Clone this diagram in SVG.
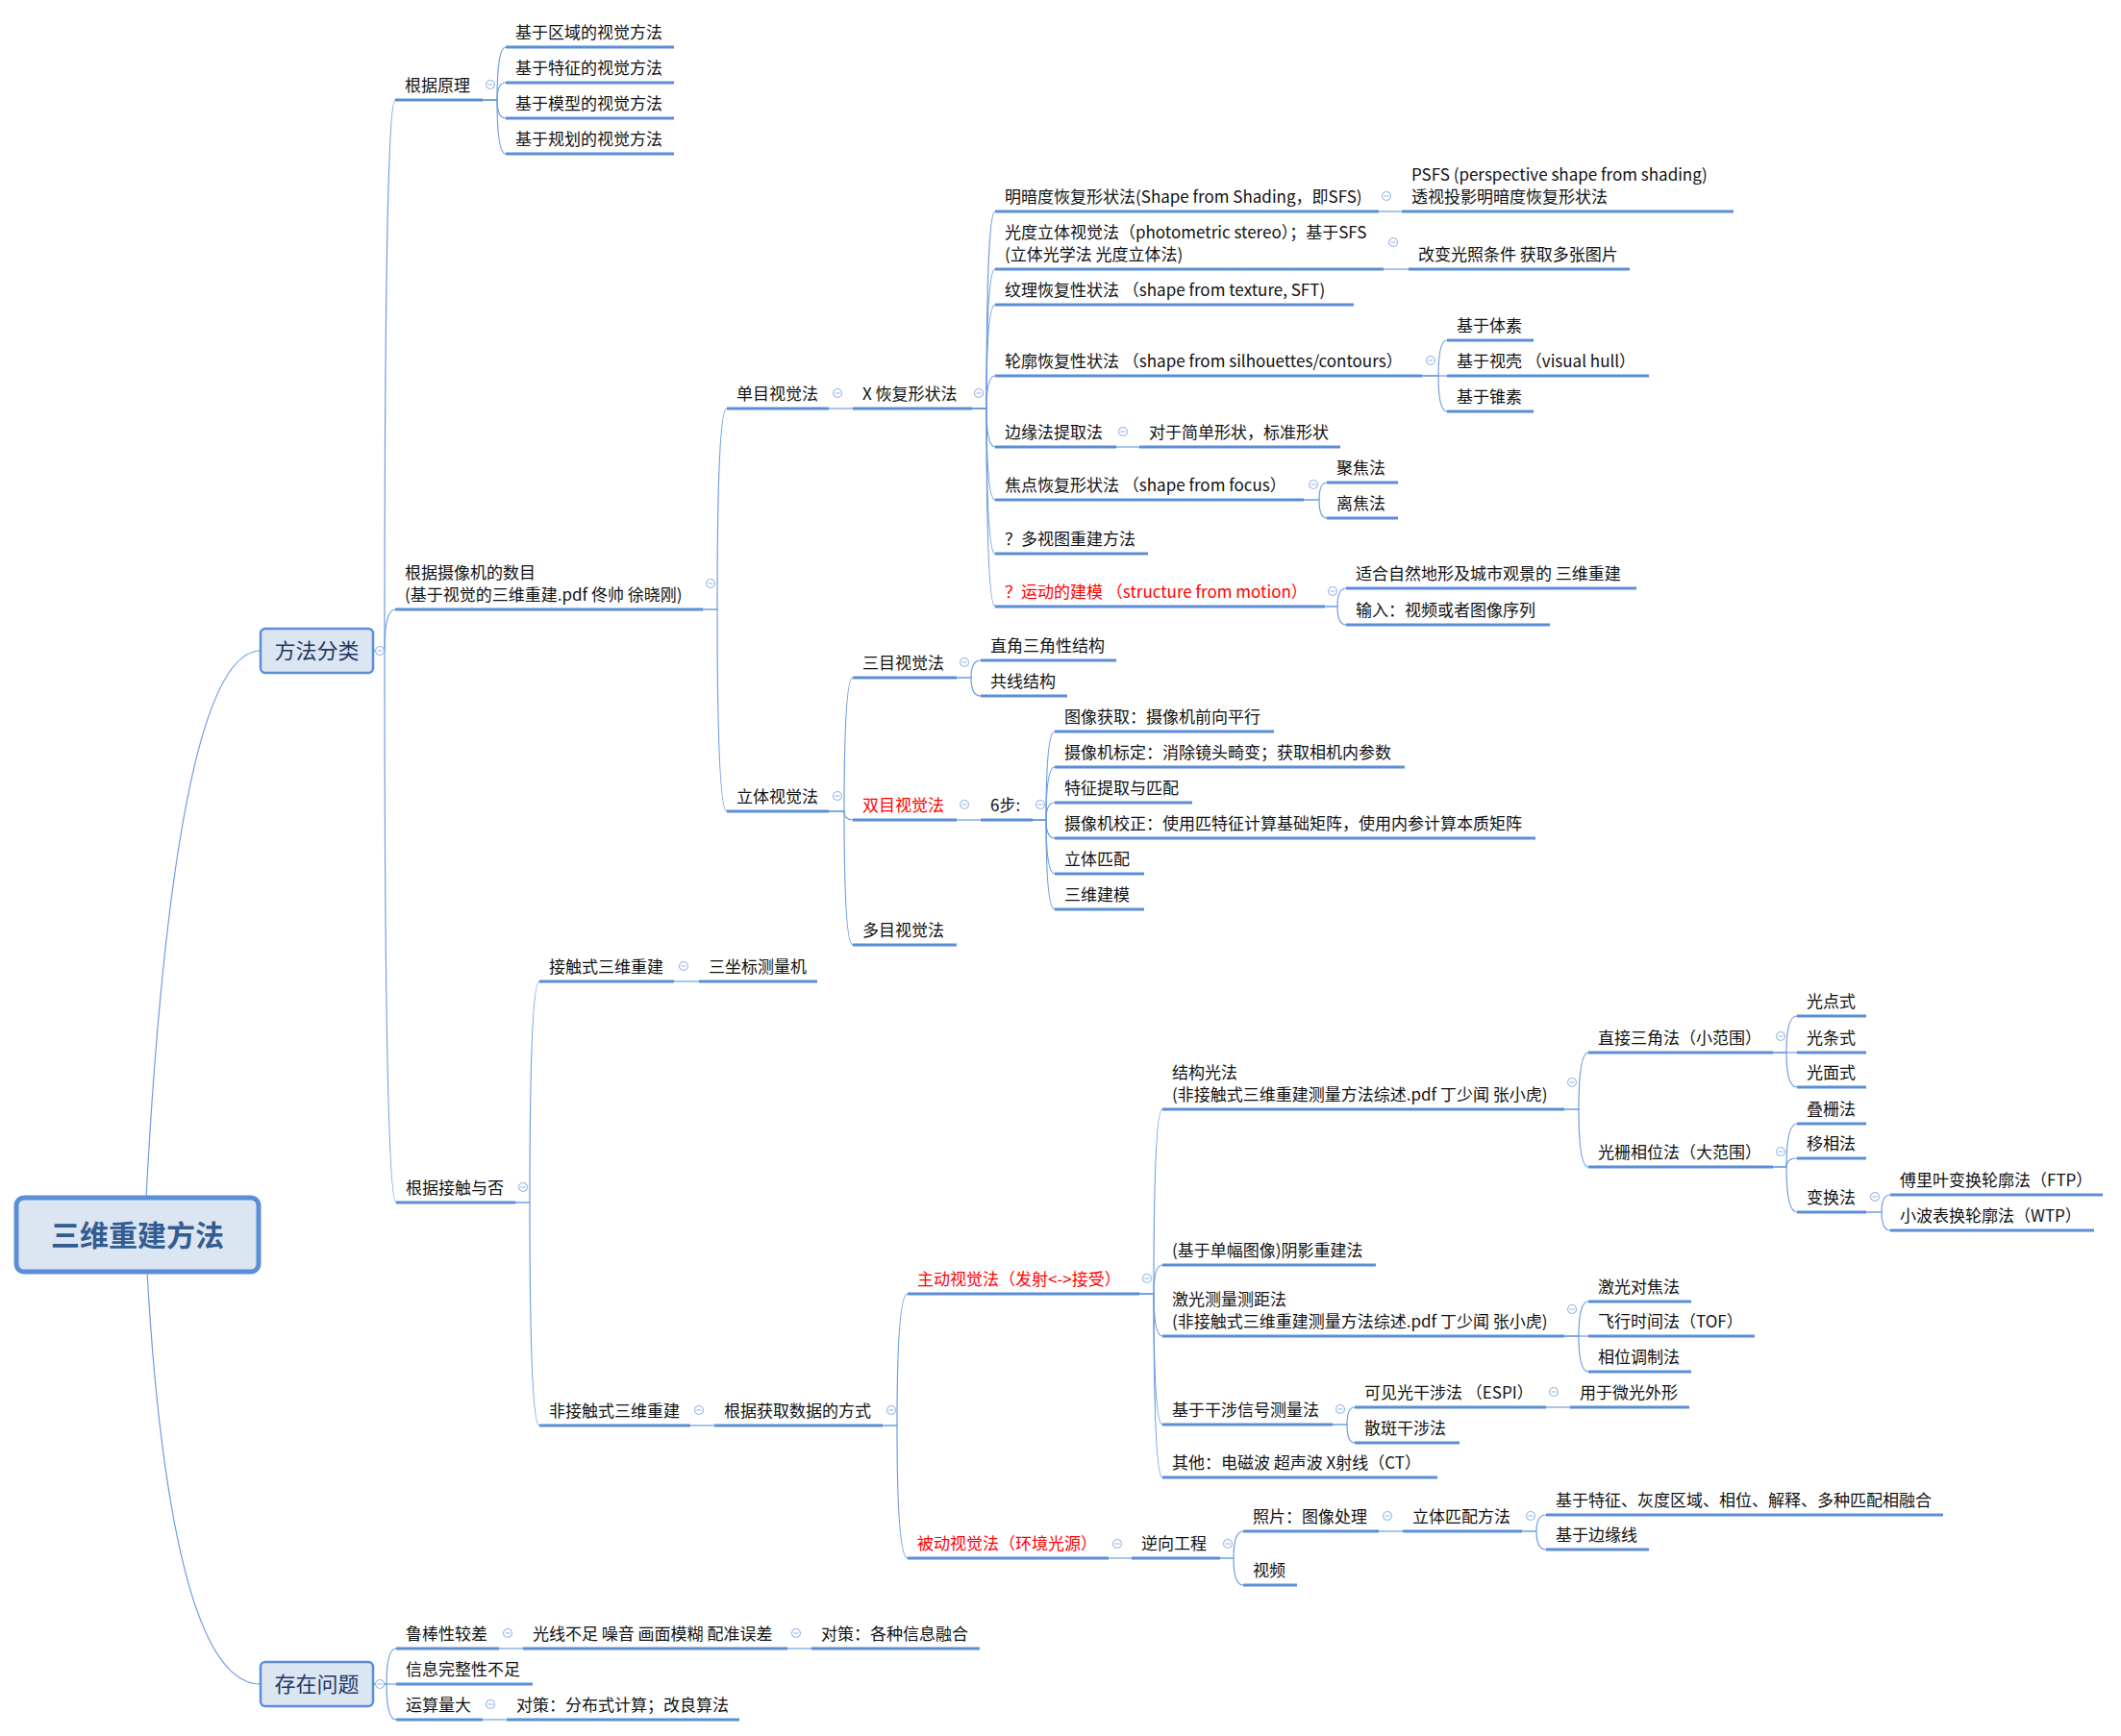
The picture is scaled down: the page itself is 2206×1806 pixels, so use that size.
<svg xmlns="http://www.w3.org/2000/svg" width="2206" height="1806" viewBox="0 0 2206 1806">
<style>
.t{font-family:"Noto Sans CJK SC","Liberation Sans",sans-serif;font-size:17px;fill:#111}
.red{fill:#ff0000}
.u{stroke:#5b8ed7;stroke-width:3.2;fill:none}
.c{stroke:#6d9de0;stroke-width:1.2;fill:none}
.box{fill:#dce6f2;stroke:#5b8ed7;stroke-width:2.5}
.root{fill:#dce6f2;stroke:#5b8ed7;stroke-width:5}
.bt{font-family:"Noto Sans CJK SC","Liberation Sans",sans-serif;font-size:22px;fill:#1f3864;text-anchor:middle}
.rt{font-family:"Noto Sans CJK SC","Liberation Sans",sans-serif;font-size:30px;font-weight:bold;fill:#335d91;text-anchor:middle}
</style>
<defs>
<g id="mk"><circle r="4.5" fill="#fff" stroke="#9ab8e6" stroke-width="1.1"/><line x1="-2.6" y1="0" x2="2.6" y2="0" stroke="#9ab8e6" stroke-width="1.1"/></g>
</defs>
<rect width="2206" height="1806" fill="#fff"/>

<g id="connectors">
<!-- root -->
<path class="c" d="M152,1246 C165,1000 195,677 271,677"/>
<path class="c" d="M153,1323 C163,1500 190,1752 271,1752"/>
<!-- 方法分类 -->
<path class="c" d="M388,677 H400 Q400,104 411,104"/>
<path class="c" d="M388,677 H400 Q400,634 411,634"/>
<path class="c" d="M388,677 H400 Q400,1251 412,1251"/>
<!-- 根据原理 -->
<path class="c" d="M502,104 H517 Q517,49 526,49"/>
<path class="c" d="M502,104 H517 Q517,86 526,86"/>
<path class="c" d="M502,104 H517 Q517,123 526,123"/>
<path class="c" d="M502,104 H517 Q517,160 526,160"/>
<!-- 根据摄像机 -->
<path class="c" d="M731,634 H746 Q746,425 756,425"/>
<path class="c" d="M731,634 H746 Q746,844 756,844"/>
<path class="c" d="M862,425 H887"/>
<!-- X 恢复形状法 -->
<path class="c" d="M1011,425 H1026 Q1026,220 1035,220"/>
<path class="c" d="M1011,425 H1026 Q1026,280 1035,280"/>
<path class="c" d="M1011,425 H1026 Q1026,317 1035,317"/>
<path class="c" d="M1011,425 H1026 Q1026,391 1035,391"/>
<path class="c" d="M1011,425 H1026 Q1026,465 1035,465"/>
<path class="c" d="M1011,425 H1026 Q1026,520 1035,520"/>
<path class="c" d="M1011,425 H1026 Q1026,576 1035,576"/>
<path class="c" d="M1011,425 H1026 Q1026,631 1035,631"/>
<path class="c" d="M1434,220 H1458"/>
<path class="c" d="M1439,280 H1465"/>
<path class="c" d="M1479,391 H1496 Q1496,354 1505,354"/>
<path class="c" d="M1479,391 H1505"/>
<path class="c" d="M1479,391 H1496 Q1496,428 1505,428"/>
<path class="c" d="M1161,465 H1185"/>
<path class="c" d="M1356,520 H1372 Q1372,502 1380,502"/>
<path class="c" d="M1356,520 H1372 Q1372,539 1380,539"/>
<path class="c" d="M1378,631 H1391 Q1391,612 1400,612"/>
<path class="c" d="M1378,631 H1391 Q1391,650 1400,650"/>
<!-- 立体视觉法 -->
<path class="c" d="M862,844 H878 Q878,705 887,705"/>
<path class="c" d="M862,844 H878 Q878,853 887,853"/>
<path class="c" d="M862,844 H878 Q878,983 887,983"/>
<path class="c" d="M995,705 H1010 Q1010,687 1020,687"/>
<path class="c" d="M995,705 H1010 Q1010,724 1020,724"/>
<path class="c" d="M995,853 H1020"/>
<path class="c" d="M1074,853 H1088 Q1088,761 1097,761"/>
<path class="c" d="M1074,853 H1088 Q1088,798 1097,798"/>
<path class="c" d="M1074,853 H1088 Q1088,835 1097,835"/>
<path class="c" d="M1074,853 H1088 Q1088,872 1097,872"/>
<path class="c" d="M1074,853 H1088 Q1088,909 1097,909"/>
<path class="c" d="M1074,853 H1088 Q1088,946 1097,946"/>
<!-- 根据接触与否 -->
<path class="c" d="M536,1251 H551 Q551,1021 561,1021"/>
<path class="c" d="M536,1251 H551 Q551,1483 561,1483"/>
<path class="c" d="M701,1021 H727"/>
<path class="c" d="M718,1483 H743"/>
<path class="c" d="M918,1483 H933 Q933,1346 944,1346"/>
<path class="c" d="M918,1483 H933 Q933,1621 944,1621"/>
<!-- 主动 -->
<path class="c" d="M1185,1346 H1200 Q1200,1154 1209,1154"/>
<path class="c" d="M1185,1346 H1200 Q1200,1316 1209,1316"/>
<path class="c" d="M1185,1346 H1200 Q1200,1390 1209,1390"/>
<path class="c" d="M1185,1346 H1200 Q1200,1482 1209,1482"/>
<path class="c" d="M1185,1346 H1200 Q1200,1537 1209,1537"/>
<path class="c" d="M1627,1154 H1642 Q1642,1095 1652,1095"/>
<path class="c" d="M1627,1154 H1642 Q1642,1214 1652,1214"/>
<path class="c" d="M1844,1095 H1858 Q1858,1057 1869,1057"/>
<path class="c" d="M1844,1095 H1869"/>
<path class="c" d="M1844,1095 H1858 Q1858,1131 1869,1131"/>
<path class="c" d="M1844,1214 H1858 Q1858,1169 1869,1169"/>
<path class="c" d="M1844,1214 H1858 Q1858,1205 1869,1205"/>
<path class="c" d="M1844,1214 H1858 Q1858,1261 1869,1261"/>
<path class="c" d="M1941,1261 H1957 Q1957,1243 1966,1243"/>
<path class="c" d="M1941,1261 H1957 Q1957,1280 1966,1280"/>
<path class="c" d="M1627,1390 H1642 Q1642,1354 1652,1354"/>
<path class="c" d="M1627,1390 H1652"/>
<path class="c" d="M1627,1390 H1642 Q1642,1427 1652,1427"/>
<path class="c" d="M1386,1482 H1401 Q1401,1464 1409,1464"/>
<path class="c" d="M1386,1482 H1401 Q1401,1501 1409,1501"/>
<path class="c" d="M1608,1464 H1633"/>
<!-- 被动 -->
<path class="c" d="M1153,1621 H1177"/>
<path class="c" d="M1269,1621 H1283 Q1283,1593 1293,1593"/>
<path class="c" d="M1269,1621 H1283 Q1283,1649 1293,1649"/>
<path class="c" d="M1434,1593 H1459"/>
<path class="c" d="M1583,1593 H1598 Q1598,1576 1608,1576"/>
<path class="c" d="M1583,1593 H1598 Q1598,1612 1608,1612"/>
<!-- 存在问题 -->
<path class="c" d="M388,1752 H402 Q402,1715 412,1715"/>
<path class="c" d="M388,1752 H412"/>
<path class="c" d="M388,1752 H402 Q402,1789 412,1789"/>
<path class="c" d="M519,1715 H544"/>
<path class="c" d="M819,1715 H844"/>
<path class="c" d="M502,1789 H527"/>
</g>

<g id="root"><rect class="root" x="17" y="1246" width="252" height="77" rx="8"/><text class="rt" x="143" y="1296">三维重建方法</text></g>
<g id="fangfa"><rect class="box" x="271" y="654" width="117" height="46" rx="5"/><text class="bt" x="329.5" y="685">方法分类</text><use href="#mk" x="395" y="677"/></g>
<g id="wenti"><rect class="box" x="271" y="1729" width="117" height="46" rx="5"/><text class="bt" x="329.5" y="1760">存在问题</text><use href="#mk" x="395" y="1752"/></g>

<g id="yuanli"><text class="t" x="421" y="95">根据原理</text><line class="u" x1="411" y1="104" x2="502" y2="104"/><use href="#mk" x="510" y="88"/></g>
<g id="yuanli-1"><text class="t" x="536" y="40">基于区域的视觉方法</text><line class="u" x1="526" y1="49" x2="701" y2="49"/></g>
<g id="yuanli-2"><text class="t" x="536" y="77">基于特征的视觉方法</text><line class="u" x1="526" y1="86" x2="701" y2="86"/></g>
<g id="yuanli-3"><text class="t" x="536" y="114">基于模型的视觉方法</text><line class="u" x1="526" y1="123" x2="701" y2="123"/></g>
<g id="yuanli-4"><text class="t" x="536" y="151">基于规划的视觉方法</text><line class="u" x1="526" y1="160" x2="701" y2="160"/></g>

<g id="shumu"><text class="t" x="421" y="602">根据摄像机的数目</text><text class="t" x="421" y="625">(基于视觉的三维重建.pdf  佟帅 徐晓刚)</text><line class="u" x1="411" y1="634" x2="731" y2="634"/><use href="#mk" x="739" y="607"/></g>
<g id="danmu"><text class="t" x="766" y="416">单目视觉法</text><line class="u" x1="756" y1="425" x2="862" y2="425"/><use href="#mk" x="871" y="409"/></g>
<g id="xhuifu"><text class="t" x="897" y="416">X 恢复形状法</text><line class="u" x1="887" y1="425" x2="1011" y2="425"/><use href="#mk" x="1018" y="409"/></g>
<g id="x1"><text class="t" x="1045" y="211">明暗度恢复形状法(Shape from Shading，即SFS)</text><line class="u" x1="1035" y1="220" x2="1434" y2="220"/><use href="#mk" x="1442" y="204"/></g>
<g id="x1a"><text class="t" x="1468" y="188">PSFS (perspective shape from shading)</text><text class="t" x="1468" y="211">透视投影明暗度恢复形状法</text><line class="u" x1="1458" y1="220" x2="1803" y2="220"/></g>
<g id="x2"><text class="t" x="1045" y="248">光度立体视觉法（photometric stereo）；基于SFS</text><text class="t" x="1045" y="271">(立体光学法 光度立体法)</text><line class="u" x1="1035" y1="280" x2="1439" y2="280"/><use href="#mk" x="1449" y="252"/></g>
<g id="x2a"><text class="t" x="1475" y="271">改变光照条件 获取多张图片</text><line class="u" x1="1465" y1="280" x2="1695" y2="280"/></g>
<g id="x3"><text class="t" x="1045" y="308">纹理恢复性状法 （shape from texture, SFT)</text><line class="u" x1="1035" y1="317" x2="1408" y2="317"/></g>
<g id="x4"><text class="t" x="1045" y="382">轮廓恢复性状法 （shape from silhouettes/contours）</text><line class="u" x1="1035" y1="391" x2="1479" y2="391"/><use href="#mk" x="1488" y="375"/></g>
<g id="x4a"><text class="t" x="1515" y="345">基于体素</text><line class="u" x1="1505" y1="354" x2="1595" y2="354"/></g>
<g id="x4b"><text class="t" x="1515" y="382">基于视壳 （visual hull）</text><line class="u" x1="1505" y1="391" x2="1715" y2="391"/></g>
<g id="x4c"><text class="t" x="1515" y="419">基于锥素</text><line class="u" x1="1505" y1="428" x2="1595" y2="428"/></g>
<g id="x5"><text class="t" x="1045" y="456">边缘法提取法</text><line class="u" x1="1035" y1="465" x2="1161" y2="465"/><use href="#mk" x="1168" y="449"/></g>
<g id="x5a"><text class="t" x="1195" y="456">对于简单形状，标准形状</text><line class="u" x1="1185" y1="465" x2="1394" y2="465"/></g>
<g id="x6"><text class="t" x="1045" y="511">焦点恢复形状法 （shape from focus）</text><line class="u" x1="1035" y1="520" x2="1356" y2="520"/><use href="#mk" x="1366" y="504"/></g>
<g id="x6a"><text class="t" x="1390" y="493">聚焦法</text><line class="u" x1="1380" y1="502" x2="1454" y2="502"/></g>
<g id="x6b"><text class="t" x="1390" y="530">离焦法</text><line class="u" x1="1380" y1="539" x2="1454" y2="539"/></g>
<g id="x7"><text class="t" x="1045" y="567">？多视图重建方法</text><line class="u" x1="1035" y1="576" x2="1194" y2="576"/></g>
<g id="x8"><text class="t red" x="1045" y="622">？运动的建模 （structure from motion）</text><line class="u" x1="1035" y1="631" x2="1378" y2="631"/><use href="#mk" x="1386" y="615"/></g>
<g id="x8a"><text class="t" x="1410" y="603">适合自然地形及城市观景的 三维重建</text><line class="u" x1="1400" y1="612" x2="1702" y2="612"/></g>
<g id="x8b"><text class="t" x="1410" y="641">输入：视频或者图像序列</text><line class="u" x1="1400" y1="650" x2="1612" y2="650"/></g>

<g id="liti"><text class="t" x="766" y="835">立体视觉法</text><line class="u" x1="756" y1="844" x2="862" y2="844"/><use href="#mk" x="871" y="828"/></g>
<g id="sanmu"><text class="t" x="897" y="696">三目视觉法</text><line class="u" x1="887" y1="705" x2="995" y2="705"/><use href="#mk" x="1003" y="689"/></g>
<g id="sanmu-1"><text class="t" x="1030" y="678">直角三角性结构</text><line class="u" x1="1020" y1="687" x2="1161" y2="687"/></g>
<g id="sanmu-2"><text class="t" x="1030" y="715">共线结构</text><line class="u" x1="1020" y1="724" x2="1110" y2="724"/></g>
<g id="shuangmu"><text class="t red" x="897" y="844">双目视觉法</text><line class="u" x1="887" y1="853" x2="995" y2="853"/><use href="#mk" x="1003" y="837"/></g>
<g id="liubu"><text class="t" x="1030" y="844">6步:</text><line class="u" x1="1020" y1="853" x2="1074" y2="853"/><use href="#mk" x="1082" y="837"/></g>
<g id="step1"><text class="t" x="1107" y="752">图像获取：摄像机前向平行</text><line class="u" x1="1097" y1="761" x2="1325" y2="761"/></g>
<g id="step2"><text class="t" x="1107" y="789">摄像机标定：消除镜头畸变；获取相机内参数</text><line class="u" x1="1097" y1="798" x2="1461" y2="798"/></g>
<g id="step3"><text class="t" x="1107" y="826">特征提取与匹配</text><line class="u" x1="1097" y1="835" x2="1240" y2="835"/></g>
<g id="step4"><text class="t" x="1107" y="863">摄像机校正：使用匹特征计算基础矩阵，使用内参计算本质矩阵</text><line class="u" x1="1097" y1="872" x2="1597" y2="872"/></g>
<g id="step5"><text class="t" x="1107" y="900">立体匹配</text><line class="u" x1="1097" y1="909" x2="1190" y2="909"/></g>
<g id="step6"><text class="t" x="1107" y="937">三维建模</text><line class="u" x1="1097" y1="946" x2="1190" y2="946"/></g>
<g id="duomu"><text class="t" x="897" y="974">多目视觉法</text><line class="u" x1="887" y1="983" x2="995" y2="983"/></g>

<g id="jiechu"><text class="t" x="422" y="1242">根据接触与否</text><line class="u" x1="412" y1="1251" x2="536" y2="1251"/><use href="#mk" x="544" y="1235"/></g>
<g id="jcs"><text class="t" x="571" y="1012">接触式三维重建</text><line class="u" x1="561" y1="1021" x2="701" y2="1021"/><use href="#mk" x="711" y="1005"/></g>
<g id="jcs-1"><text class="t" x="737" y="1012">三坐标测量机</text><line class="u" x1="727" y1="1021" x2="850" y2="1021"/></g>
<g id="fjcs"><text class="t" x="571" y="1474">非接触式三维重建</text><line class="u" x1="561" y1="1483" x2="718" y2="1483"/><use href="#mk" x="727" y="1467"/></g>
<g id="fangshi"><text class="t" x="753" y="1474">根据获取数据的方式</text><line class="u" x1="743" y1="1483" x2="918" y2="1483"/><use href="#mk" x="927" y="1467"/></g>
<g id="zhudong"><text class="t red" x="954" y="1337">主动视觉法（发射&lt;-&gt;接受）</text><line class="u" x1="944" y1="1346" x2="1185" y2="1346"/><use href="#mk" x="1193" y="1330"/></g>
<g id="jgg"><text class="t" x="1219" y="1122">结构光法</text><text class="t" x="1219" y="1145">(非接触式三维重建测量方法综述.pdf 丁少闻 张小虎)</text><line class="u" x1="1209" y1="1154" x2="1627" y2="1154"/><use href="#mk" x="1635" y="1126"/></g>
<g id="zjsj"><text class="t" x="1662" y="1086">直接三角法（小范围）</text><line class="u" x1="1652" y1="1095" x2="1844" y2="1095"/><use href="#mk" x="1852" y="1078"/></g>
<g id="gds"><text class="t" x="1879" y="1048">光点式</text><line class="u" x1="1869" y1="1057" x2="1941" y2="1057"/></g>
<g id="gts"><text class="t" x="1879" y="1086">光条式</text><line class="u" x1="1869" y1="1095" x2="1941" y2="1095"/></g>
<g id="gms"><text class="t" x="1879" y="1122">光面式</text><line class="u" x1="1869" y1="1131" x2="1941" y2="1131"/></g>
<g id="gsxw"><text class="t" x="1662" y="1205">光栅相位法（大范围）</text><line class="u" x1="1652" y1="1214" x2="1844" y2="1214"/><use href="#mk" x="1852" y="1198"/></g>
<g id="dzf"><text class="t" x="1879" y="1160">叠栅法</text><line class="u" x1="1869" y1="1169" x2="1941" y2="1169"/></g>
<g id="yxf"><text class="t" x="1879" y="1196">移相法</text><line class="u" x1="1869" y1="1205" x2="1941" y2="1205"/></g>
<g id="bhf"><text class="t" x="1879" y="1252">变换法</text><line class="u" x1="1869" y1="1261" x2="1941" y2="1261"/><use href="#mk" x="1950" y="1245"/></g>
<g id="ftp"><text class="t" x="1976" y="1234">傅里叶变换轮廓法（FTP）</text><line class="u" x1="1966" y1="1243" x2="2187" y2="1243"/></g>
<g id="wtp"><text class="t" x="1976" y="1271">小波表换轮廓法（WTP）</text><line class="u" x1="1966" y1="1280" x2="2178" y2="1280"/></g>
<g id="yinying"><text class="t" x="1219" y="1307">(基于单幅图像)阴影重建法</text><line class="u" x1="1209" y1="1316" x2="1431" y2="1316"/></g>
<g id="jiguang"><text class="t" x="1219" y="1358">激光测量测距法</text><text class="t" x="1219" y="1381">(非接触式三维重建测量方法综述.pdf 丁少闻 张小虎)</text><line class="u" x1="1209" y1="1390" x2="1627" y2="1390"/><use href="#mk" x="1635" y="1362"/></g>
<g id="jgdj"><text class="t" x="1662" y="1345">激光对焦法</text><line class="u" x1="1652" y1="1354" x2="1759" y2="1354"/></g>
<g id="tof"><text class="t" x="1662" y="1381">飞行时间法（TOF）</text><line class="u" x1="1652" y1="1390" x2="1825" y2="1390"/></g>
<g id="xwtz"><text class="t" x="1662" y="1418">相位调制法</text><line class="u" x1="1652" y1="1427" x2="1759" y2="1427"/></g>
<g id="ganshe"><text class="t" x="1219" y="1473">基于干涉信号测量法</text><line class="u" x1="1209" y1="1482" x2="1386" y2="1482"/><use href="#mk" x="1394" y="1466"/></g>
<g id="espi"><text class="t" x="1419" y="1455">可见光干涉法 （ESPI）</text><line class="u" x1="1409" y1="1464" x2="1608" y2="1464"/><use href="#mk" x="1616" y="1448"/></g>
<g id="wgwx"><text class="t" x="1643" y="1455">用于微光外形</text><line class="u" x1="1633" y1="1464" x2="1757" y2="1464"/></g>
<g id="sban"><text class="t" x="1419" y="1492">散斑干涉法</text><line class="u" x1="1409" y1="1501" x2="1518" y2="1501"/></g>
<g id="qita"><text class="t" x="1219" y="1528">其他：电磁波 超声波 X射线（CT）</text><line class="u" x1="1209" y1="1537" x2="1495" y2="1537"/></g>
<g id="beidong"><text class="t red" x="954" y="1612">被动视觉法（环境光源）</text><line class="u" x1="944" y1="1621" x2="1153" y2="1621"/><use href="#mk" x="1162" y="1606"/></g>
<g id="nixiang"><text class="t" x="1187" y="1612">逆向工程</text><line class="u" x1="1177" y1="1621" x2="1269" y2="1621"/><use href="#mk" x="1277" y="1606"/></g>
<g id="zhaopian"><text class="t" x="1303" y="1584">照片：图像处理</text><line class="u" x1="1293" y1="1593" x2="1434" y2="1593"/><use href="#mk" x="1443" y="1577"/></g>
<g id="ltpp"><text class="t" x="1469" y="1584">立体匹配方法</text><line class="u" x1="1459" y1="1593" x2="1583" y2="1593"/><use href="#mk" x="1592" y="1577"/></g>
<g id="ltpp-1"><text class="t" x="1618" y="1567">基于特征、灰度区域、相位、解释、多种匹配相融合</text><line class="u" x1="1608" y1="1576" x2="2021" y2="1576"/></g>
<g id="ltpp-2"><text class="t" x="1618" y="1603">基于边缘线</text><line class="u" x1="1608" y1="1612" x2="1715" y2="1612"/></g>
<g id="shipin"><text class="t" x="1303" y="1640">视频</text><line class="u" x1="1293" y1="1649" x2="1349" y2="1649"/></g>

<g id="lubang"><text class="t" x="422" y="1706">鲁棒性较差</text><line class="u" x1="412" y1="1715" x2="519" y2="1715"/><use href="#mk" x="528" y="1699"/></g>
<g id="guangxian"><text class="t" x="554" y="1706">光线不足 噪音 画面模糊 配准误差</text><line class="u" x1="544" y1="1715" x2="819" y2="1715"/><use href="#mk" x="828" y="1699"/></g>
<g id="duice1"><text class="t" x="854" y="1706">对策：各种信息融合</text><line class="u" x1="844" y1="1715" x2="1019" y2="1715"/></g>
<g id="wanzheng"><text class="t" x="422" y="1743">信息完整性不足</text><line class="u" x1="412" y1="1752" x2="554" y2="1752"/></g>
<g id="yunsuan"><text class="t" x="422" y="1780">运算量大</text><line class="u" x1="412" y1="1789" x2="502" y2="1789"/><use href="#mk" x="510" y="1773"/></g>
<g id="duice2"><text class="t" x="537" y="1780">对策：分布式计算；改良算法</text><line class="u" x1="527" y1="1789" x2="769" y2="1789"/></g>
</svg>
